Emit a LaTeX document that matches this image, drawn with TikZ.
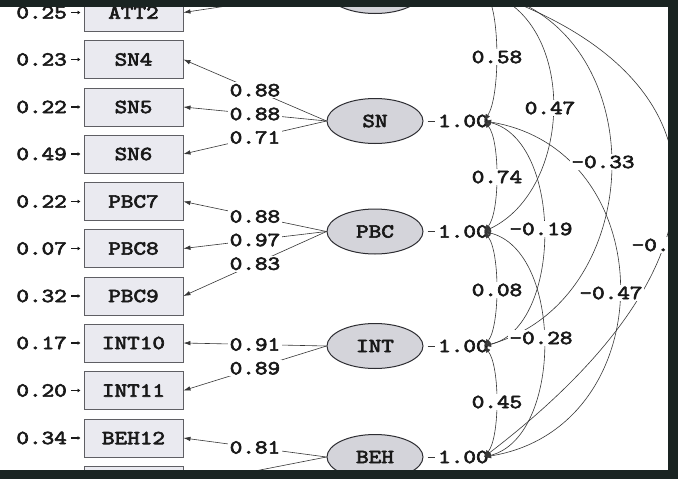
\documentclass[tikz,border=0pt]{standalone}
\usepackage{fontspec}
\newfontfamily\cour[Extension=.otf,AutoFakeBold=2.8]{lmmono10-regular}
\usetikzlibrary{arrows.meta,shapes.geometric}
\definecolor{band}{RGB}{26,36,34}
\definecolor{boxfill}{RGB}{234,234,240}
\definecolor{boxdraw}{RGB}{95,95,100}
\definecolor{ellfill}{RGB}{212,212,218}
\definecolor{ellline}{RGB}{45,45,50}
\definecolor{ink}{RGB}{25,25,25}
\definecolor{wire}{RGB}{55,55,55}
\newcommand\wide[1]{\scalebox{1.2}[1]{#1}}
\begin{document}
\begin{tikzpicture}[x=1pt,y=-1pt,
  txt/.style={font=\fontsize{20}{22}\selectfont\cour\bfseries,text=ink},
  obs/.style={txt,draw=boxdraw,fill=boxfill,line width=0.9pt,minimum width=99pt,minimum height=38pt,inner sep=0pt},
  lat/.style={txt,ellipse,draw=ellline,fill=ellfill,line width=1pt,minimum width=96pt,minimum height=45pt,inner sep=0pt},
  lab/.style={txt,fill=white,inner sep=1.5pt},
  errlab/.style={txt,anchor=east,inner sep=0pt},
  varlab/.style={txt,anchor=west,inner sep=0pt},
  load/.style={draw=wire,line width=0.6pt,-{Latex[length=7pt,width=4.5pt]}},
  errarr/.style={draw=ink,line width=1.4pt,-{Latex[length=3pt,width=4pt]}},
  corr/.style={draw=wire,line width=0.6pt,{Latex[length=7pt,width=5pt]}-{Latex[length=7pt,width=5pt]}},
  varline/.style={draw=wire,line width=0.8pt}
]
\useasboundingbox (0,0) rectangle (678,479);
\fill[white] (0,0) rectangle (678,479);
\begin{scope}
\clip (0,0) rectangle (678,479);
% observed variables
\node[obs] (ATT2) at (133.5,12.5) {\wide{ATT2}};
\node[obs] (SN4) at (133.5,59.5) {\wide{SN4}};
\node[obs] (SN5) at (133.5,107) {\wide{SN5}};
\node[obs] (SN6) at (133.5,154) {\wide{SN6}};
\node[obs] (PBC7) at (133.5,201.5) {\wide{PBC7}};
\node[obs] (PBC8) at (133.5,248.5) {\wide{PBC8}};
\node[obs] (PBC9) at (133.5,296) {\wide{PBC9}};
\node[obs] (INT10) at (133.5,343) {\wide{INT10}};
\node[obs] (INT11) at (133.5,390.5) {\wide{INT11}};
\node[obs] (BEH12) at (133.5,438) {\wide{BEH12}};
\node[obs] (BEH13) at (133.5,485) {};
% error variances
\node[errlab] (eATT2) at (67,12.5) {\wide{0.25}};
\node[errlab] (eSN4) at (67,59.5) {\wide{0.23}};
\node[errlab] (eSN5) at (67,107) {\wide{0.22}};
\node[errlab] (eSN6) at (67,154) {\wide{0.49}};
\node[errlab] (ePBC7) at (67,201.5) {\wide{0.22}};
\node[errlab] (ePBC8) at (67,248.5) {\wide{0.07}};
\node[errlab] (ePBC9) at (67,296) {\wide{0.32}};
\node[errlab] (eINT10) at (67,343) {\wide{0.17}};
\node[errlab] (eINT11) at (67,390.5) {\wide{0.20}};
\node[errlab] (eBEH12) at (67,438) {\wide{0.34}};
\foreach \v in {ATT2,SN4,SN5,SN6,PBC7,PBC8,PBC9,INT10,INT11,BEH12}
  \draw[errarr] ([xshift=4pt]e\v.east) -- ([xshift=-3pt]\v.west);
% latent variables
\node[lat] (ATT) at (375,-9) {};
\node[lat] (SN) at (375,121) {\wide{SN}};
\node[lat] (PBC) at (375,231.5) {\wide{PBC}};
\node[lat] (INT) at (375,346) {\wide{INT}};
\node[lat] (BEH) at (375,457) {\wide{BEH}};
% loadings
\draw[load] (ATT.west) -- (ATT2.east);
\draw[load] (SN.west) -- node[lab]{\wide{0.88}} (SN4.east);
\draw[load] (SN.west) -- node[lab]{\wide{0.88}} (SN5.east);
\draw[load] (SN.west) -- node[lab]{\wide{0.71}} (SN6.east);
\draw[load] (PBC.west) -- node[lab]{\wide{0.88}} (PBC7.east);
\draw[load] (PBC.west) -- node[lab]{\wide{0.97}} (PBC8.east);
\draw[load] (PBC.west) -- node[lab]{\wide{0.83}} (PBC9.east);
\draw[load] (INT.west) -- node[lab]{\wide{0.91}} (INT10.east);
\draw[load] (INT.west) -- node[lab]{\wide{0.89}} (INT11.east);
\draw[load] (BEH.west) -- node[lab]{\wide{0.81}} (BEH12.east);
\draw[load] (BEH.west) -- (BEH13.east);
% variances
\node[varlab] (vSN) at (438,121) {\wide{1.00}};
\node[varlab] (vPBC) at (438,231.5) {\wide{1.00}};
\node[varlab] (vINT) at (438,346) {\wide{1.00}};
\node[varlab] (vBEH) at (438,457) {\wide{1.00}};
\foreach \v in {SN,PBC,INT,BEH}
  \draw[varline] ([xshift=4pt]\v.east) -- ([xshift=-3pt]v\v.west);
% anchors for correlations
\coordinate (tATT) at (484,-9);
\coordinate (tSN) at (484,121);
\coordinate (tPBC) at (484,231.5);
\coordinate (tINT) at (484,346);
\coordinate (tBEH) at (484,457);
% correlations
\draw[corr] (tATT) .. controls (500,15) and (500,97) .. (tSN);
\draw[corr] (tSN) .. controls (500,140) and (500,212) .. (tPBC);
\draw[corr] (tPBC) .. controls (500,252) and (500,326) .. (tINT);
\draw[corr] (tINT) .. controls (500,366) and (500,437) .. (tBEH);
\draw[corr] (tATT) .. controls (578,25) and (572,190) .. (tPBC);
\draw[corr] (tSN) .. controls (563,140) and (563,327) .. (tINT);
\draw[corr] (tPBC) .. controls (563,251) and (563,437) .. (tBEH);
\draw[corr] (tATT) .. controls (655,30) and (650,300) .. (tINT);
\draw[corr] (tSN) .. controls (664,150) and (664,428) .. (tBEH);
\draw[corr] (tATT) .. controls (725,75) and (748,255) .. (tBEH);
% correlation labels
\node[lab] (c1) at (497,57) {\wide{0.58}};
\node[lab] (c2) at (497,177) {\wide{0.74}};
\node[lab] (c3) at (497,290) {\wide{0.08}};
\node[lab] (c4) at (497,402) {\wide{0.45}};
\node[lab] (c5) at (550,108) {\wide{0.47}};
\node[lab] (c6) at (541,229) {\wide{-0.19}};
\node[lab] (c7) at (541,338) {\wide{-0.28}};
\node[lab] (c8) at (603,162) {\wide{-0.33}};
\node[lab] (c9) at (611,293) {\wide{-0.47}};
\node[lab,anchor=west] (c10) at (630,245) {\wide{-0.}};
\end{scope}
% scan borders
\fill[band] (0,0) rectangle (678,7);
\fill[band] (0,470) rectangle (678,479);
\fill[band] (668,0) rectangle (678,479);
\end{tikzpicture}
\end{document}
